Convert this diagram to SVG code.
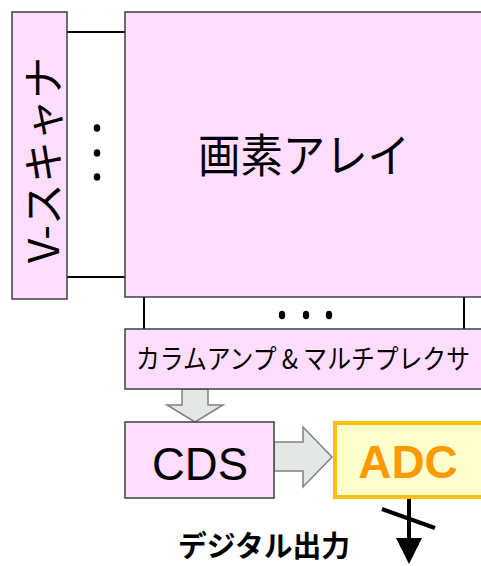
<svg xmlns="http://www.w3.org/2000/svg" width="481" height="566" viewBox="0 0 481 566">
<style>
.box{fill:#FFDDFF;stroke:#404040;stroke-width:1.5}
.fillp{fill:#FFDDFF}
.edge{fill:none;stroke:#404040;stroke-width:1.5}
.jp{font-family:"Noto Sans CJK JP","Noto Sans",sans-serif;fill:#000}
.ln{stroke:#000;stroke-width:2;fill:none}
.garrow{fill:#E3E7E7;stroke:#808080;stroke-width:1.5}
</style>
<rect width="481" height="566" fill="#fff"/>
<g id="connectors">
<line class="ln" x1="67" y1="32" x2="125" y2="32"/>
<line class="ln" x1="67" y1="277" x2="125" y2="277"/>
<line class="ln" x1="144" y1="297" x2="144" y2="329"/>
<line class="ln" x1="464" y1="297" x2="464" y2="329"/>
<g fill="#000">
<ellipse cx="97" cy="128" rx="3.3" ry="3.8"/>
<ellipse cx="97" cy="153" rx="3.3" ry="3.8"/>
<ellipse cx="97" cy="177" rx="3.3" ry="3.8"/>
<ellipse cx="282" cy="315" rx="3.2" ry="4.3"/>
<ellipse cx="306" cy="315" rx="3.2" ry="4.3"/>
<ellipse cx="329" cy="315" rx="3.2" ry="4.3"/>
</g>
<polygon class="garrow" points="182,389 208,389 208,405 223,405 195,422 167,405 182,405"/>
<polygon class="garrow" points="274,442 303,442 303,427 332,457 303,487 303,471 274,471"/>
<line stroke="#000" stroke-width="4" x1="409" y1="499" x2="409" y2="541"/>
<line stroke="#000" stroke-width="4" x1="382" y1="509" x2="435" y2="528"/>
<polygon fill="#000" points="396,538 422,538 409,564"/>
</g>
<g id="vscanner">
<rect class="box" x="12" y="12" width="55" height="287"/>
<text class="jp" font-size="42" text-anchor="middle" textLength="206" lengthAdjust="spacingAndGlyphs" transform="translate(59,160) rotate(-90)">V-スキャナ</text>
</g>
<g id="pixel-array">
<rect class="fillp" x="125" y="12" width="356" height="285"/>
<path class="edge" d="M481,12 H125 V297 H481"/>
<text class="jp" x="304" y="172" font-size="46" text-anchor="middle" textLength="212" lengthAdjust="spacingAndGlyphs">画素アレイ</text>
</g>
<g id="column-amp">
<rect class="fillp" x="125" y="329" width="356" height="60"/>
<path class="edge" d="M481,329 H125 V389 H481"/>
<text class="jp" x="136" y="369" font-size="27" textLength="334" lengthAdjust="spacingAndGlyphs">カラムアンプ &amp; マルチプレクサ</text>
</g>
<g id="cds">
<rect class="box" x="125" y="422" width="149" height="76"/>
<text x="200" y="480" font-family="Liberation Sans, Arial, sans-serif" font-size="47" text-anchor="middle" textLength="96" lengthAdjust="spacingAndGlyphs">CDS</text>
</g>
<g id="adc">
<rect x="335" y="423" width="146" height="74" fill="#FFFFCC"/>
<path d="M481,423 H335 V497 H481" fill="none" stroke="#FFC000" stroke-width="4"/>
<text x="408" y="478" font-family="Liberation Sans, Arial, sans-serif" font-weight="bold" font-size="46" fill="#FF9900" text-anchor="middle">ADC</text>
</g>
<g id="digital-output">
<text class="jp" x="178" y="557" font-size="29" font-weight="bold" textLength="172" lengthAdjust="spacingAndGlyphs">デジタル出力</text>
</g>
</svg>
